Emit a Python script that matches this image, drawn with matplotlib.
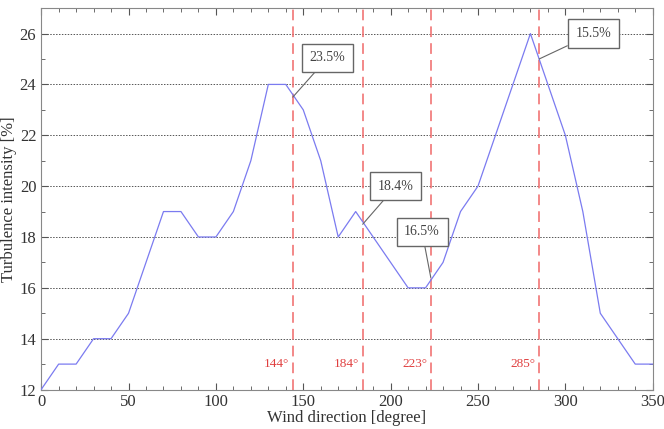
import matplotlib.pyplot as plt
from matplotlib.ticker import MultipleLocator

plt.rcParams['font.family'] = ['Liberation Serif', 'DejaVu Serif']

# wind direction (deg) and turbulence intensity (%)
direction = [0, 10, 20, 30, 40, 50, 60, 70, 80, 90, 100, 110, 120, 130, 140, 150,
             160, 170, 180, 190, 200, 210, 220, 230, 240, 250, 260, 270, 280, 290,
             300, 310, 320, 330, 340, 350]
intensity = [12, 13, 13, 14, 14, 15, 17, 19, 19, 18, 18, 19, 21, 24, 24, 23,
             21, 18, 19, 18, 17, 16, 16, 17, 19, 20, 22, 24, 26, 24,
             22, 19, 15, 14, 13, 13]

# marked directions and their annotation labels
marks = [144, 184, 223, 285]
mark_labels = ['144°', '184°', '223°', '285°']
ann_text = ['23.5%', '18.4%', '16.5%', '15.5%']
ann_point = [(144, 23.5), (184, 18.5), (223, 16.4), (285, 25.0)]
ann_box = [(164, 25.05), (203, 20.0), (218, 18.2), (316, 26.0)]

fig = plt.figure(figsize=(6.64, 4.29), dpi=100)
ax = fig.add_axes([0.062, 0.092, 0.921, 0.889])

ax.plot(direction, intensity, color='#7b7bf0', lw=0.9, zorder=3)

for m, lab in zip(marks, mark_labels):
    ax.axvline(m, color='#f06868', ls=(0, (7, 4)), lw=1.1, zorder=2)
    ax.text(m - 2, 13.0, lab, color='#e04040', fontsize=9.5, ha='right', va='center')

for t, p, b in zip(ann_text, ann_point, ann_box):
    ax.annotate(t, xy=p, xytext=b, ha='center', va='center', fontsize=10,
                color='#444444',
                bbox=dict(boxstyle='square,pad=0.55', fc='white', ec='#666666', lw=1.0),
                arrowprops=dict(arrowstyle='-', color='#666666', lw=0.8,
                                shrinkA=0, shrinkB=0),
                zorder=5)

ax.set_xlim(0, 350)
ax.set_ylim(12, 27)
ax.xaxis.set_major_locator(MultipleLocator(50))
ax.xaxis.set_minor_locator(MultipleLocator(10))
ax.yaxis.set_major_locator(MultipleLocator(2))
ax.yaxis.set_minor_locator(MultipleLocator(1))
ax.tick_params(which='both', direction='in', top=True, right=True, colors='#555555',
               labelcolor='#333333', labelsize=12)
ax.tick_params(axis='x', pad=3)
ax.tick_params(which='major', length=5)
ax.tick_params(which='minor', length=3)
ax.yaxis.grid(True, color='#555555', ls=(0, (1.5, 1.5)), lw=0.7)
for s in ax.spines.values():
    s.set_color('#888888')

ax.set_xlabel('Wind direction [degree]', fontsize=12, labelpad=0, color='#333333')
ax.set_ylabel('Turbulence intensity [%]', fontsize=12, labelpad=2, color='#333333')

fig.savefig('out.png', dpi=100)
